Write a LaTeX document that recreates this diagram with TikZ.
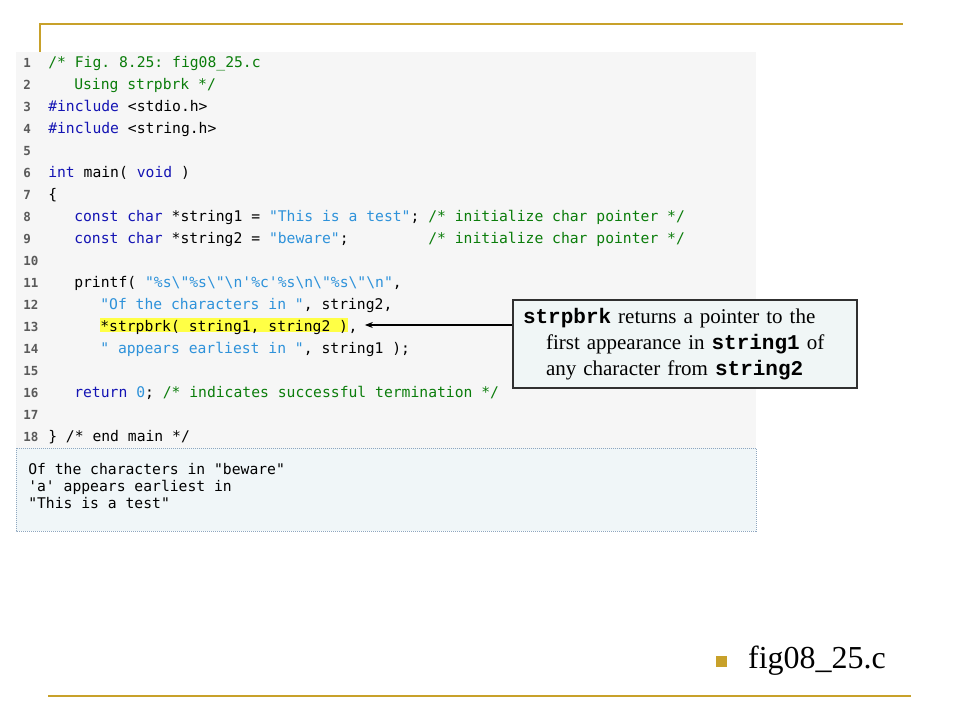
\documentclass[tikz,border=0pt]{standalone}
\usepackage{fontspec}
\setmainfont{Liberation Serif}
\setmonofont{DejaVu Sans Mono}
\newfontfamily\notemono{Liberation Mono}
\usepackage{xcolor}
\usepackage{tikz}
\usetikzlibrary{arrows.meta,positioning}

\definecolor{slidegold}{HTML}{C8A12A}
\definecolor{codebg}{HTML}{F6F6F6}
\definecolor{outbg}{HTML}{F0F6F8}
\definecolor{outborder}{HTML}{8EA6BF}
\definecolor{noteback}{HTML}{F0F6F6}
\definecolor{noteborder}{HTML}{303030}
\definecolor{kwblue}{HTML}{1414B4}
\definecolor{strblue}{HTML}{2E92DA}
\definecolor{cmtgreen}{HTML}{0B7D0B}
\definecolor{linegray}{HTML}{5A5A5A}
\definecolor{hilite}{HTML}{FFFF45}

\newcommand{\kw}[1]{\textcolor{kwblue}{#1}}
\newcommand{\strlit}[1]{\textcolor{strblue}{#1}}
\newcommand{\cmt}[1]{\textcolor{cmtgreen}{#1}}
\newcommand{\bs}{\textbackslash}
\newcommand{\codefont}{\ttfamily\fontsize{14.7}{22}\selectfont}
\newcommand{\notefont}{\fontsize{21}{26}\selectfont}

\begin{document}
\begin{tikzpicture}[x=1pt,y=-1pt,>={Stealth[length=8pt,width=6pt]},semithick]
  \tikzstyle{codeline}=[anchor=base west,inner sep=0pt,font=\codefont]
  \tikzstyle{lineno}=[anchor=base west,inner sep=0pt,text=linegray,
                      font=\ttfamily\bfseries\fontsize{12.5}{15}\selectfont]
  \tikzstyle{goldline}=[draw=slidegold,line width=2.2pt]
  \tikzstyle{notebox}=[draw=noteborder,fill=noteback,line width=1.2pt,
                       text width=324pt,inner xsep=10pt,inner ysep=0pt,
                       minimum height=88pt,align=left,font=\notefont]

  \useasboundingbox (0,0) rectangle (960,720);

  % slide frame
  \draw[goldline] (40,52) -- (40,24) -- (903,24);
  \draw[goldline] (48,696) -- (911,696);

  % listing and output panels
  \fill[codebg] (16,52) rectangle (756,448);
  \draw[outborder,fill=outbg,densely dotted,line width=1pt] (16,448) rectangle (756,531);

  % line numbers
  \node[lineno] (n1)  at (23,67)  {1};
  \node[lineno] (n2)  at (23,89)  {2};
  \node[lineno] (n3)  at (23,111) {3};
  \node[lineno] (n4)  at (23,133) {4};
  \node[lineno] (n5)  at (23,155) {5};
  \node[lineno] (n6)  at (23,177) {6};
  \node[lineno] (n7)  at (23,199) {7};
  \node[lineno] (n8)  at (23,221) {8};
  \node[lineno] (n9)  at (23,243) {9};
  \node[lineno] (n10) at (23,265) {10};
  \node[lineno] (n11) at (23,287) {11};
  \node[lineno] (n12) at (23,309) {12};
  \node[lineno] (n13) at (23,331) {13};
  \node[lineno] (n14) at (23,353) {14};
  \node[lineno] (n15) at (23,375) {15};
  \node[lineno] (n16) at (23,397) {16};
  \node[lineno] (n17) at (23,419) {17};
  \node[lineno] (n18) at (23,441) {18};

  % code
  \node[codeline] (l1)  at (48,67)  {\cmt{/* Fig. 8.25: fig08\_25.c}};
  \node[codeline] (l2)  at (74,89)  {\cmt{Using strpbrk */}};
  \node[codeline] (l3)  at (48,111) {\kw{\#include} <stdio.h>};
  \node[codeline] (l4)  at (48,133) {\kw{\#include} <string.h>};
  \node[codeline] (l6)  at (48,177) {\kw{int} main( \kw{void} )};
  \node[codeline] (l7)  at (48,199) {\{};
  \node[codeline] (l8)  at (74,221) {\kw{const char} *string1 = \strlit{"This is a test"}; \cmt{/* initialize char pointer */}};
  \node[codeline] (l9)  at (74,243) {\kw{const char} *string2 = \strlit{"beware"};~~~~~~~~~\cmt{/* initialize char pointer */}};
  \node[codeline] (l11) at (74,287) {printf( \strlit{"\%s\bs"\%s\bs"\bs n'\%c'\%s\bs n\bs"\%s\bs"\bs n"},};
  \node[codeline] (l12) at (100,309) {\strlit{"Of the characters in "}, string2,};
  \node[codeline,fill=hilite,text height=13pt,text depth=1pt] (hl) at (100,331) {*strpbrk( string1, string2 )};
  \node[codeline] (l13) at (hl.base east) {,};
  \node[codeline] (l14) at (100,353) {\strlit{" appears earliest in "}, string1 );};
  \node[codeline] (l16) at (74,397) {\kw{return} \strlit{0}; \cmt{/* indicates successful termination */}};
  \node[codeline] (l18) at (48,441) {\} /* end main */};

  % program output
  \node[codeline] (o1) at (28,474) {Of the characters in "beware"};
  \node[codeline] (o2) at (28,491) {'a' appears earliest in};
  \node[codeline] (o3) at (28,508) {"This is a test"};

  % callout
  \node[notebox] (note) at (685,344)
    {{\notemono\bfseries strpbrk} returns a pointer to the\\
     \hspace*{23pt}first appearance in {\notemono\bfseries string1} of\\
     \hspace*{23pt}any character from {\notemono\bfseries string2}};
  \draw[->,line width=1.2pt] (note.west |- hl.center) -- ([xshift=7pt]l13.east |- hl.center);

  % file name bullet
  \node[fill=slidegold,minimum size=11pt,inner sep=0pt] (bullet) at (721,661) {};
  \node[right=21pt of bullet,inner sep=0pt,font=\fontsize{32}{38}\selectfont] (fname) {fig08\_25.c};
\end{tikzpicture}
\end{document}
